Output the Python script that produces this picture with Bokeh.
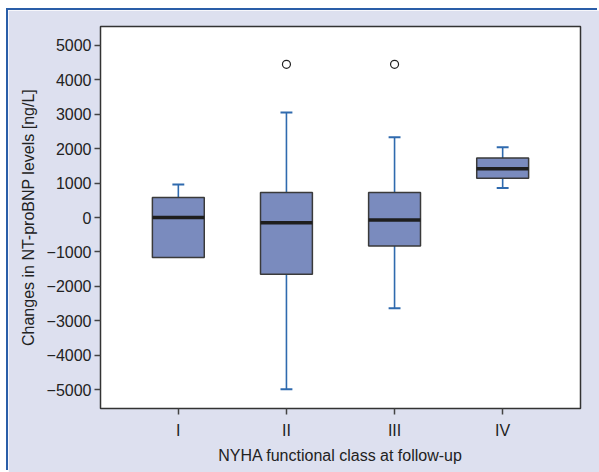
from bokeh.plotting import figure
from bokeh.models import Range1d, FixedTicker, ColumnDataSource
from bokeh.embed import file_html
from bokeh.resources import INLINE

classes = ["I", "II", "III", "IV"]
whisk_lo = [-1160, -4990, -2640, 860]
q1 = [-1160, -1650, -830, 1140]
median = [0, -150, -70, 1420]
q3 = [580, 730, 730, 1730]
whisk_hi = [960, 3050, 2330, 2040]
outlier_class = ["II", "III"]
outlier_values = [4450, 4450]

y_ticks = [5000, 4000, 3000, 2000, 1000, 0, -1000, -2000, -3000, -4000, -5000]
y_tick_labels = ["5000", "4000", "3000", "2000", "1000", "0", "\u22121000", "\u22122000",
                 "\u22123000", "\u22124000", "\u22125000"]

FONT = "Liberation Sans"
BG = "#dde0ef"

xpos = [i + 1 for i in range(len(classes))]
opos = [classes.index(c) + 1 for c in outlier_class]
bw = 0.48
cw = 0.11

p = figure(width=591, height=462, output_backend="svg", toolbar_location=None,
           x_range=Range1d(0.28, 4.72), y_range=Range1d(-5550, 5550),
           min_border_left=92, min_border_top=16, min_border_right=19, min_border_bottom=64)
p.margin = (10, 0, 0, 8)
p.styles = {"box-shadow": "-2px -2px 0 0 #2a5ea8"}
p.background_fill_color = "white"
p.border_fill_color = BG
p.outline_line_color = "#333333"
p.outline_line_width = 1.5
p.grid.visible = False

src = ColumnDataSource(dict(x=xpos, lo=whisk_lo, q1=q1, med=median, q3=q3, hi=whisk_hi,
                            l=[x - bw / 2 for x in xpos], r=[x + bw / 2 for x in xpos],
                            cl=[x - cw / 2 for x in xpos], cr=[x + cw / 2 for x in xpos]))
wc = "#2f6aae"
p.segment(x0="x", y0="q3", x1="x", y1="hi", source=src, line_color=wc, line_width=1.6)
p.segment(x0="x", y0="lo", x1="x", y1="q1", source=src, line_color=wc, line_width=1.6)
p.segment(x0="cl", y0="hi", x1="cr", y1="hi", source=src, line_color=wc, line_width=2)
lo_idx = [i for i in range(len(classes)) if whisk_lo[i] < q1[i]]
src_lo = ColumnDataSource(dict(cl=[xpos[i] - cw / 2 for i in lo_idx],
                               cr=[xpos[i] + cw / 2 for i in lo_idx],
                               lo=[whisk_lo[i] for i in lo_idx]))
p.segment(x0="cl", y0="lo", x1="cr", y1="lo", source=src_lo, line_color=wc, line_width=2)
p.quad(left="l", right="r", bottom="q1", top="q3", source=src,
       fill_color="#7a8bbe", line_color="#3a3a3a", line_width=1.5)
p.segment(x0="l", y0="med", x1="r", y1="med", source=src, line_color="#1e1e1e", line_width=3.5)
p.scatter(x=opos, y=outlier_values, size=8, marker="circle", fill_color="white",
          line_color="#222222", line_width=1.2)

p.xaxis.ticker = FixedTicker(ticks=xpos)
p.xaxis.major_label_overrides = {x: c for x, c in zip(xpos, classes)}
p.yaxis.ticker = FixedTicker(ticks=y_ticks)
p.yaxis.major_label_overrides = {t: l for t, l in zip(y_ticks, y_tick_labels)}
p.xaxis.axis_label = "NYHA functional class at follow-up"
p.yaxis.axis_label = "Changes in NT-proBNP levels [ng/L]"
for ax in (p.xaxis, p.yaxis):
    ax.axis_line_color = None
    ax.major_tick_in = 0
    ax.major_tick_out = 6
    ax.major_tick_line_color = "#444444"
    ax.major_tick_line_width = 1.5
    ax.minor_tick_line_color = None
    ax.major_label_text_font = FONT
    ax.major_label_text_font_size = "16px"
    ax.major_label_text_color = "#222222"
    ax.axis_label_text_font = FONT
    ax.axis_label_text_font_size = "16px"
    ax.axis_label_text_font_style = "normal"
    ax.axis_label_text_color = "#222222"
p.yaxis.major_label_standoff = 3
p.xaxis.major_label_standoff = 7
p.xaxis.axis_label_standoff = 5
p.yaxis.axis_label_standoff = 7

open("out.html", "w").write(file_html(p, INLINE))
